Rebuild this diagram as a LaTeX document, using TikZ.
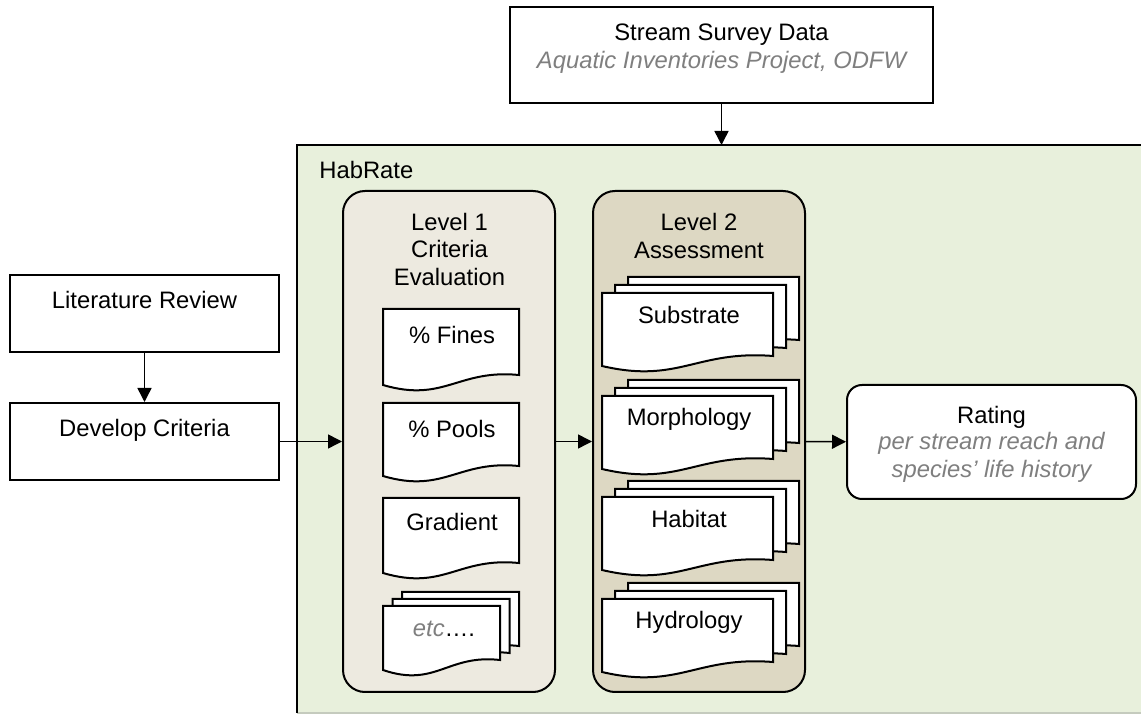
\documentclass[tikz,border=0pt]{standalone}
\usepackage{fontspec}
\setmainfont{Liberation Sans}
\usetikzlibrary{arrows.meta}
\definecolor{habgreen}{HTML}{E8F0DC}
\definecolor{lvlone}{HTML}{EDEAE0}
\definecolor{lvltwo}{HTML}{DDD8C3}
\definecolor{subgrey}{HTML}{7F7F7F}
\definecolor{edgegrey}{HTML}{C5CBBE}
\tikzset{
  txt/.style={inner sep=0pt, text height=8.5pt, text depth=0pt, font=\fontsize{11.9}{14}\selectfont},
  sub/.style={txt, text=subgrey, font=\fontsize{11.9}{14}\selectfont\itshape},
  plainbox/.style={draw=black, line width=1pt, fill=white, rectangle, inner sep=0pt},
  roundbox/.style={draw=black, line width=1pt, fill=white, rounded corners=7.5pt, inner sep=0pt},
  panelone/.style={draw=black, line width=1pt, fill=lvlone, rounded corners=11pt, inner sep=0pt},
  paneltwo/.style={draw=black, line width=1pt, fill=lvltwo, rounded corners=11pt, inner sep=0pt},
  docsty/.style={draw=black, line width=1pt, fill=white, line join=miter},
  conn/.style={line width=0.75pt, -{Triangle[length=7pt,width=7pt]}},
}
% document shape: #1 left x, #2 top y, #3 width, #4 right-side height (px units, y down)
\newcommand\docshape[4]{%
  \path[docsty] (#1,#2) -- ({#1+#3},#2) -- ({#1+#3},{#2+#4})
    .. controls ({#1+0.55*#3},{#2+#4-6}) and ({#1+0.45*#3},{#2+#4+28}) .. (#1,{#2+#4+10}) -- cycle;}
% stacked documents: #1 front left x, #2 front top y, #3 width, #4 height, #5 dx, #6 dy
\newcommand\multidoc[6]{%
  \docshape{#1+2*#5}{#2-2*#6}{#3}{#4}%
  \docshape{#1+#5}{#2-#6}{#3}{#4}%
  \docshape{#1}{#2}{#3}{#4}}
\begin{document}
\begin{tikzpicture}[x=0.5pt,y=-0.5pt]
\useasboundingbox (0,0) rectangle (1141,715);
% HabRate region
\fill[habgreen] (297,145) rectangle (1141,713);
\draw[edgegrey, line width=1pt] (297,713) -- (1141,713);
\draw[line width=1pt] (297,713) -- (297,145) -- (1141,145);
\coordinate (habtop) at (721.5,145);
\node[txt, anchor=west] (habl) at (319,170) {HabRate};

% Stream survey data
\node[plainbox, minimum width=211.5pt, minimum height=48pt] (ssd) at (721.5,55) {};
\node[txt] (ssdt) at (721.5,32) {Stream Survey Data};
\node[sub] (ssds) at (721.5,60) {Aquatic Inventories Project, ODFW};

% Left boxes
\node[plainbox, minimum width=134.5pt, minimum height=38.5pt] (lit) at (144.5,313.5) {};
\node[txt] (litt) at (144.5,300) {Literature Review};
\node[plainbox, minimum width=134.5pt, minimum height=38.5pt] (dev) at (144.5,441.5) {};
\node[txt] (devt) at (144.5,428) {Develop Criteria};

% Panels
\node[panelone, minimum width=106pt, minimum height=250.5pt] (l1) at (449,441.5) {};
\node[paneltwo, minimum width=106pt, minimum height=250.5pt] (l2) at (699,441.5) {};

\node[txt] (l1a) at (449.5,222) {Level 1};
\node[txt] (l1b) at (449.5,249.5) {Criteria};
\node[txt] (l1c) at (449.5,277) {Evaluation};
\node[txt] (l2a) at (699,222.5) {Level 2};
\node[txt] (l2b) at (699,250.5) {Assessment};

% Level 1 documents
\docshape{383}{309}{136}{66}
\node[txt] (fines) at (452,335) {\% Fines};
\docshape{383}{403}{136}{63}
\node[txt] (pools) at (452,429) {\% Pools};
\docshape{383}{498}{136}{65}
\node[txt] (grad) at (452,522.5) {Gradient};
\multidoc{383}{606}{117}{54}{9.5}{7}
\node[txt] (etc) at (444,628) {{\itshape\color{subgrey}etc}….};

% Level 2 documents
\multidoc{602}{293}{171}{63}{13}{8}
\node[txt] (subs) at (689,315) {Substrate};
\multidoc{602}{396}{171}{63}{13}{8}
\node[txt] (morph) at (689,417) {Morphology};
\multidoc{602}{497}{171}{63}{13}{8}
\node[txt] (habit) at (689,519) {Habitat};
\multidoc{602}{599}{171}{63}{13}{8}
\node[txt] (hydro) at (689,620.5) {Hydrology};

% Rating
\node[roundbox, minimum width=144.5pt, minimum height=57pt] (rating) at (991.5,442) {};
\node[txt] (rata) at (991.5,415) {Rating};
\node[sub] (ratb) at (991.5,441) {per stream reach and};
\node[sub] (ratc) at (991.5,469) {species’ life history};

% Connectors
\draw[conn] (ssd) -- (habtop);
\draw[conn] (lit) -- (dev);
\draw[conn] (dev) -- (l1);
\draw[conn] (l1) -- (l2);
\draw[conn] (l2) -- (rating);
\end{tikzpicture}
\end{document}
